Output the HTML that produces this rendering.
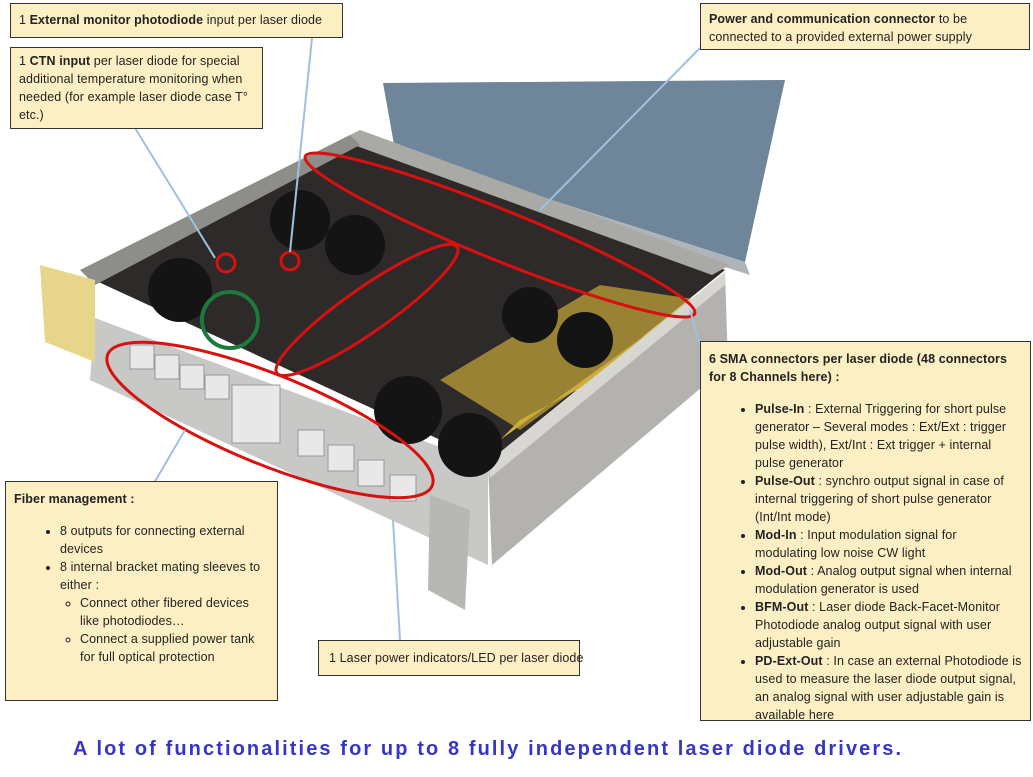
<!DOCTYPE html>
<html><head><meta charset="utf-8"><style>
body{margin:0;width:1033px;height:777px;background:#fff;position:relative;overflow:hidden;font-family:"Liberation Sans",sans-serif;}
.b{position:absolute;background:#fdefc4;border:1.5px solid #333;box-sizing:border-box;font-size:12.5px;letter-spacing:0.1px;line-height:18px;color:#222;padding:4px 8px;}
.b ul{margin:6px 0 0 0;padding-left:42px}
.b li{margin:0}
.cap{position:absolute;left:73px;top:738px;font-size:20px;font-weight:bold;color:#3535c8;letter-spacing:2.1px;white-space:nowrap}
</style></head><body>
<svg width="1033" height="777" style="position:absolute;left:0;top:0">
<polygon points="383,83 785,80 745,262 395,150" fill="#6f8599"/>
<polygon points="395,150 745,262 750,275 390,160" fill="#aeb4b8"/>
<polygon points="90,278 355,135 725,270 488,462" fill="#2e2a29"/>
<polygon points="500,440 715,285 690,330 520,420" fill="#d8b43a"/>
<polygon points="440,380 600,285 700,300 520,430" fill="#c9a83a" opacity="0.7"/>
<polygon points="340,140 360,130 730,265 712,275" fill="#a9a9a6"/>
<polygon points="80,270 350,135 360,145 95,285" fill="#8d8d8a"/>
<polygon points="95,318 488,465 488,565 90,380" fill="#c8c8c6"/>
<polygon points="488,462 725,272 728,365 492,565" fill="#b3b2ae"/>
<polygon points="488,462 725,272 725,285 490,478" fill="#d8d6d0"/>
<polygon points="40,265 95,280 95,362 45,342" fill="#e6d58a"/>
<polygon points="430,495 470,510 465,610 428,590" fill="#b7b7b4"/>
<g fill="#141414">
<circle cx="180" cy="290" r="32"/><circle cx="300" cy="220" r="30"/><circle cx="355" cy="245" r="30"/>
<circle cx="408" cy="410" r="34"/><circle cx="470" cy="445" r="32"/><circle cx="530" cy="315" r="28"/><circle cx="585" cy="340" r="28"/>
</g>
<circle cx="230" cy="320" r="28" fill="none" stroke="#1c7a3c" stroke-width="4"/>
<g fill="#e8e8e8" stroke="#999">
<rect x="130" y="345" width="24" height="24"/><rect x="155" y="355" width="24" height="24"/><rect x="180" y="365" width="24" height="24"/><rect x="205" y="375" width="24" height="24"/>
<rect x="232" y="385" width="48" height="58"/>
<rect x="298" y="430" width="26" height="26"/><rect x="328" y="445" width="26" height="26"/><rect x="358" y="460" width="26" height="26"/><rect x="390" y="475" width="26" height="26"/>
</g>
<g fill="none" stroke="#d81010" stroke-width="3">
<ellipse cx="270" cy="420" rx="175" ry="45" transform="rotate(22 270 420)"/>
<ellipse cx="367" cy="310" rx="110" ry="22" transform="rotate(-35 367 310)"/>
<ellipse cx="500" cy="235" rx="210" ry="25" transform="rotate(22 500 235)"/>
<circle cx="226" cy="263" r="9"/><circle cx="290" cy="261" r="9"/>
</g>
<g stroke="#9fc1e0" stroke-width="2" fill="none">
<line x1="312" y1="38" x2="290" y2="252"/>
<line x1="135" y1="128" x2="215" y2="258"/>
<line x1="700" y1="48" x2="540" y2="210"/>
<line x1="700" y1="345" x2="690" y2="310"/>
<line x1="150" y1="490" x2="185" y2="430"/>
<line x1="400" y1="640" x2="393" y2="520"/>
</g>
</svg>
<div class="b" style="left:10px;top:3px;width:333px;height:35px;padding-top:7px">1 <b>External monitor photodiode</b> input per laser diode</div>
<div class="b" style="left:10px;top:47px;width:253px;height:82px">1 <b>CTN input</b> per laser diode for special additional temperature monitoring when needed (for example laser diode case T° etc.)</div>
<div class="b" style="left:700px;top:3px;width:330px;height:47px;padding-top:6px"><b>Power and communication connector</b> to be connected to a provided external power supply</div>
<div class="b" style="left:700px;top:341px;width:331px;height:380px;padding-top:8px"><b>6 SMA connectors per laser diode (48 connectors for 8 Channels here) :</b>
<ul style="margin-top:14px;padding-left:46px">
<li><b>Pulse-In</b> : External Triggering for short pulse generator – Several modes : Ext/Ext : trigger pulse width), Ext/Int : Ext trigger + internal pulse generator</li>
<li><b>Pulse-Out</b> : synchro output signal in case of internal triggering of short pulse generator (Int/Int mode)</li>
<li><b>Mod-In</b> : Input modulation signal for modulating low noise CW light</li>
<li><b>Mod-Out</b> : Analog output signal when internal modulation generator is used</li>
<li><b>BFM-Out</b> : Laser diode Back-Facet-Monitor Photodiode analog output signal with user adjustable gain</li>
<li><b>PD-Ext-Out</b> : In case an external Photodiode is used to measure the laser diode output signal, an analog signal with user adjustable gain is available here</li>
</ul></div>
<div class="b" style="left:5px;top:481px;width:273px;height:220px;padding-top:8px"><b>Fiber management :</b>
<ul style="margin-top:14px;padding-left:46px">
<li>8 outputs for connecting external devices</li>
<li>8 internal bracket mating sleeves to either :
<ul style="list-style:circle;padding-left:20px;margin:0"><li>Connect other fibered devices like photodiodes…</li><li>Connect a supplied power tank for full optical protection</li></ul></li>
</ul></div>
<div class="b" style="left:318px;top:640px;width:262px;height:36px;padding:8px 4px 0 10px;white-space:nowrap">1 Laser power indicators/LED per laser diode</div>
<div class="cap">A lot of functionalities for up to 8 fully independent laser diode drivers.</div>
</body></html>
